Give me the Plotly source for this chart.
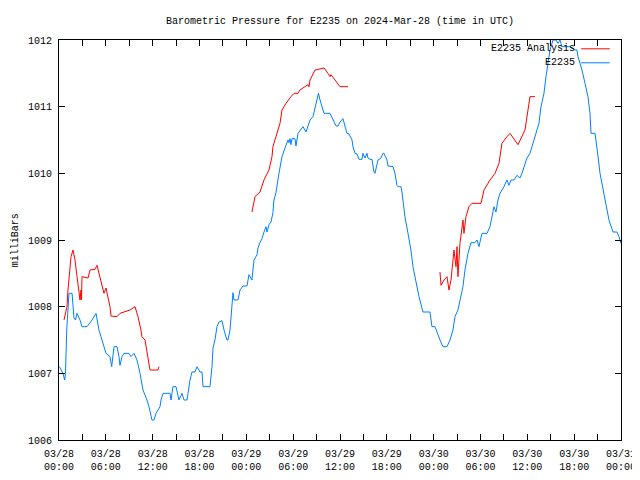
import pandas as pd
import plotly.graph_objects as go

# ---- data (hours since 2024-03-28 00:00 UTC, millibars) ----
station_hours = [
    0.06, 0.5, 0.73, 0.83, 0.99, 1.15, 1.28, 1.67, 1.92, 2.11, 2.31, 2.69, 2.95, 3.59, 3.97, 4.23,
    4.74, 5.12, 5.38, 5.76, 6.02, 6.53, 6.75, 7.05, 7.43, 7.69, 7.81, 8.07, 8.33, 8.97, 9.22, 9.61,
    9.99, 10.38, 10.76, 11.27, 11.53, 11.91, 12.17, 12.43, 12.94, 13.07, 13.32, 14.22, 14.35, 14.6,
    14.99, 15.37, 15.76, 16.01, 16.4, 16.53, 16.78, 17.04, 17.42, 17.68, 18.06, 18.32, 18.45, 19.34,
    19.6, 19.73, 19.98, 20.24, 20.5, 20.88, 21.14, 21.52, 21.65, 21.91, 22.03, 22.16, 22.29, 22.42,
    22.93, 23.19, 23.44, 23.57, 24.08, 24.34, 24.72, 24.98, 25.37, 25.49, 25.75, 26.01, 26.26, 26.52,
    26.65, 26.9, 27.16, 27.41, 27.54, 27.8, 28.18, 28.57, 28.95, 29.34, 29.47, 29.59, 29.72, 29.85,
    30.23, 30.36, 30.62, 31.0, 31.26, 31.64, 31.9, 32.16, 32.54, 32.8, 33.05, 33.24, 33.44, 33.69,
    33.95, 34.72, 35.1, 35.49, 35.74, 36.0, 36.38, 36.64, 36.89, 37.15, 37.54, 37.66, 37.92, 38.18,
    38.43, 38.82, 38.94, 39.2, 39.46, 39.58, 39.84, 40.1, 40.35, 40.48, 40.74, 40.87, 41.25, 41.51,
    41.63, 42.02, 42.15, 42.79, 43.04, 43.3, 43.43, 43.81, 43.94, 44.07, 44.32, 44.71, 45.09, 45.35,
    45.73, 46.12, 46.63, 47.53, 47.78, 48.17, 48.81, 49.19, 49.71, 50.09, 50.47, 50.73, 51.11, 51.5,
    51.75, 52.01, 52.4, 52.78, 53.29, 53.55, 53.8, 54.19, 54.83, 55.22, 55.47, 55.73, 55.98, 56.24,
    56.5, 57.01, 57.39, 57.65, 57.9, 58.29, 58.67, 59.06, 59.31, 59.95, 60.34, 60.72, 61.49, 61.75,
    62.13, 62.39, 62.64, 62.9, 63.29, 63.67, 63.93, 64.18, 64.44, 65.46, 66.1, 66.36, 66.49, 67.0,
    67.39, 67.77, 68.03, 68.16, 68.67, 68.8, 69.06, 69.31, 69.69, 70.08, 70.46, 70.97, 71.49, 71.74,
    72.0,
]
station_mb = [
    1007.10, 1007.00, 1006.90, 1007.00, 1007.65, 1008.10, 1008.20, 1008.20, 1007.83, 1007.80, 1007.90,
    1007.80, 1007.70, 1007.70, 1007.75, 1007.80, 1007.90, 1007.65, 1007.55, 1007.40, 1007.30, 1007.25,
    1007.10, 1007.40, 1007.40, 1007.25, 1007.12, 1007.25, 1007.30, 1007.30, 1007.25, 1007.30, 1007.20,
    1007.00, 1006.75, 1006.60, 1006.50, 1006.30, 1006.30, 1006.40, 1006.50, 1006.60, 1006.70, 1006.70,
    1006.60, 1006.80, 1006.80, 1006.60, 1006.70, 1006.60, 1006.60, 1006.70, 1006.90, 1007.02, 1007.02,
    1007.10, 1007.02, 1007.02, 1006.80, 1006.80, 1007.10, 1007.38, 1007.50, 1007.70, 1007.77, 1007.79,
    1007.65, 1007.50, 1007.50, 1007.65, 1007.85, 1008.06, 1008.21, 1008.10, 1008.10, 1008.25, 1008.28,
    1008.31, 1008.31, 1008.48, 1008.40, 1008.70, 1008.78, 1008.88, 1008.96, 1009.02, 1009.12, 1009.20,
    1009.12, 1009.23, 1009.27, 1009.41, 1009.60, 1009.71, 1010.00, 1010.25, 1010.38, 1010.50, 1010.46,
    1010.52, 1010.43, 1010.52, 1010.52, 1010.41, 1010.60, 1010.65, 1010.70, 1010.62, 1010.70, 1010.80,
    1010.85, 1011.00, 1011.10, 1011.20, 1011.10, 1011.00, 1010.90, 1010.90, 1010.80, 1010.71, 1010.71,
    1010.77, 1010.82, 1010.72, 1010.60, 1010.59, 1010.50, 1010.40, 1010.30, 1010.29, 1010.21, 1010.21,
    1010.30, 1010.23, 1010.30, 1010.23, 1010.21, 1010.21, 1010.02, 1010.00, 1010.12, 1010.20, 1010.23,
    1010.30, 1010.30, 1010.20, 1010.11, 1010.10, 1010.00, 1009.82, 1009.80, 1009.80, 1009.72, 1009.60,
    1009.35, 1009.10, 1008.85, 1008.60, 1008.36, 1008.15, 1007.92, 1007.92, 1007.70, 1007.70, 1007.50,
    1007.40, 1007.40, 1007.50, 1007.65, 1007.85, 1007.95, 1008.15, 1008.30, 1008.55, 1008.80, 1008.96,
    1008.96, 1009.00, 1008.90, 1009.10, 1009.10, 1009.20, 1009.35, 1009.50, 1009.42, 1009.60, 1009.70,
    1009.80, 1009.90, 1009.82, 1009.90, 1009.90, 1009.97, 1009.93, 1010.00, 1010.23, 1010.30, 1010.45,
    1010.75, 1011.00, 1011.20, 1011.45, 1011.65, 1011.85, 1012.00, 1012.00, 1011.95, 1012.00, 1011.90,
    1011.90, 1011.85, 1011.85, 1011.75, 1011.55, 1011.35, 1011.15, 1010.90, 1010.60, 1010.60, 1010.45,
    1010.25, 1010.00, 1009.75, 1009.50, 1009.30, 1009.12, 1009.12, 1009.05, 1008.95,
]

# Analysis series; None marks the gaps between analysis runs
analysis_hours = [
    0.64, 1.02, 1.15, 1.41, 1.54, 1.79, 2.05, 2.31, 2.56, 2.69, 2.82, 2.88, 2.95, 3.72, 3.97, 4.61,
    4.87, 5.12, 5.51, 5.76, 6.02, 6.28, 6.53, 6.66, 7.43, 7.81, 8.46, 9.1, 9.74, 10.12, 10.5, 10.63,
    11.02, 11.15, 11.4, 11.66, 12.68, 12.81, 18.0,
    24.72, 25.11, 25.75, 26.26, 26.9, 27.29, 27.41, 27.67, 28.31, 28.57, 29.08, 29.72, 30.11, 30.62,
    30.87, 31.51, 31.9, 32.03, 32.16, 32.8, 33.95, 34.46, 34.72, 34.84, 35.36, 35.61, 36.0, 37.02, 42.0,
    48.81, 48.94, 49.32, 49.71, 49.96, 50.22, 50.6, 50.86, 50.99, 51.11, 51.37, 51.63, 51.75, 51.88,
    52.14, 52.52, 52.91, 54.06, 54.45, 55.22, 55.86, 56.37, 56.75, 57.39, 57.78, 58.8, 59.7, 60.34,
    60.98,
]
analysis_mb = [
    1007.80, 1008.00, 1008.25, 1008.55, 1008.75, 1008.85, 1008.70, 1008.45, 1008.25, 1008.10, 1008.25,
    1008.10, 1008.45, 1008.43, 1008.55, 1008.56, 1008.62, 1008.50, 1008.35, 1008.20, 1008.28, 1008.15,
    1008.00, 1007.86, 1007.85, 1007.90, 1007.92, 1007.95, 1008.00, 1007.85, 1007.65, 1007.55, 1007.50,
    1007.40, 1007.20, 1007.05, 1007.05, 1007.10, None,
    1009.42, 1009.65, 1009.72, 1009.90, 1010.05, 1010.25, 1010.40, 1010.50, 1010.75, 1010.95, 1011.05,
    1011.15, 1011.20, 1011.20, 1011.25, 1011.30, 1011.33, 1011.30, 1011.40, 1011.55, 1011.58, 1011.50,
    1011.45, 1011.48, 1011.40, 1011.35, 1011.30, 1011.30, None,
    1008.52, 1008.32, 1008.40, 1008.45, 1008.25, 1008.40, 1008.85, 1008.60, 1008.90, 1008.45, 1008.95,
    1009.20, 1009.30, 1009.10, 1009.35, 1009.50, 1009.55, 1009.55, 1009.75, 1009.90, 1010.00, 1010.15,
    1010.45, 1010.55, 1010.60, 1010.43, 1010.65, 1011.15, 1011.15,
]

tick_hours = list(range(0, 73, 3))
tick_text = [
    "03/28<br>00:00", "", "03/28<br>06:00", "", "03/28<br>12:00", "", "03/28<br>18:00", "",
    "03/29<br>00:00", "", "03/29<br>06:00", "", "03/29<br>12:00", "", "03/29<br>18:00", "",
    "03/30<br>00:00", "", "03/30<br>06:00", "", "03/30<br>12:00", "", "03/30<br>18:00", "",
    "03/31<br>00:00",
]
y_ticks = [1006, 1007, 1008, 1009, 1010, 1011, 1012]
series_names = ["E2235 Analysis", "E2235"]
series_colors = ["#ff0000", "#0080ff"]

base = pd.Timestamp("2024-03-28 00:00")
to_time = lambda hrs: [base + pd.Timedelta(hours=h) for h in hrs]

FONT = "Liberation Mono"
W, H = 632, 472  # page body adds an 8px margin; keeps the figure inside the 640x480 window

fig = go.Figure()
fig.add_trace(go.Scatter(x=to_time(analysis_hours), y=analysis_mb, mode="lines",
                         name=series_names[0], line=dict(color=series_colors[0], width=1),
                         connectgaps=False))
fig.add_trace(go.Scatter(x=to_time(station_hours), y=station_mb, mode="lines",
                         name=series_names[1], line=dict(color=series_colors[1], width=1)))

fig.update_layout(
    width=W, height=H,
    margin=dict(l=51, r=19, t=32, b=40, autoexpand=False),
    paper_bgcolor="white", plot_bgcolor="white",
    font=dict(family=FONT, size=10, color="black"),
    showlegend=False,
    title=dict(text="Barometric Pressure for E2235 on 2024-Mar-28 (time in UTC)",
               x=0.5, xref="paper", xanchor="center", y=1 - 12 / H, yanchor="middle",
               yref="container", font=dict(family=FONT, size=10, color="black")),
)
fig.update_xaxes(
    type="date", range=[base, base + pd.Timedelta(hours=72)],
    tickvals=to_time(tick_hours), ticktext=tick_text, tickangle=0,
    ticks="inside", ticklen=6, tickcolor="black", tickwidth=1,
    showline=True, linecolor="black", linewidth=1, mirror="ticks",
    showgrid=False, zeroline=False, ticklabelstandoff=4, automargin=False,
)
fig.update_yaxes(
    range=[1006, 1012], tickvals=y_ticks, ticktext=[str(v) for v in y_ticks],
    ticks="inside", ticklen=6, tickcolor="black", tickwidth=1,
    showline=True, linecolor="black", linewidth=1, mirror="ticks",
    showgrid=False, zeroline=False, ticklabelstandoff=4, automargin=False,
)

# y-axis label
fig.add_annotation(text="milliBars", xref="paper", yref="paper", x=-0.078, y=0.5,
                   textangle=-90, showarrow=False, xanchor="center", yanchor="middle",
                   font=dict(family=FONT, size=10, color="black"))

# legend (text on the left, line sample on the right, like the original)
legend_y = [0.978, 0.943]
for name, color, ly in zip(series_names, series_colors, legend_y):
    fig.add_annotation(text=name, xref="paper", yref="paper", x=0.922, y=ly,
                       showarrow=False, xanchor="right", yanchor="middle",
                       font=dict(family=FONT, size=10, color="black"))
    fig.add_shape(type="line", xref="paper", yref="paper", x0=0.929, x1=0.980, y0=ly, y1=ly,
                  line=dict(color=color, width=1))

fig.write_html("out.html")
